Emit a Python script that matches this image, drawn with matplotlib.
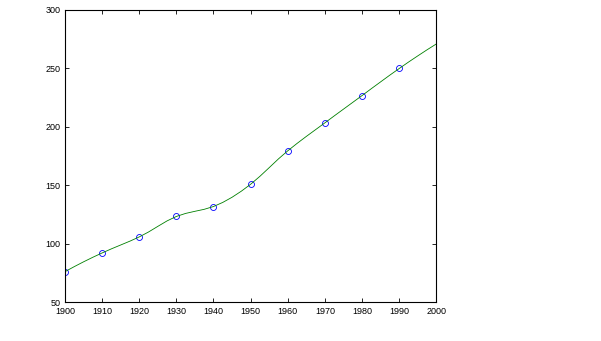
import matplotlib
matplotlib.use("Agg")
import matplotlib.pyplot as plt

# census samples (blue circles)
years = [1900, 1910, 1920, 1930, 1940, 1950, 1960, 1970, 1980, 1990]
pop = [75.995, 91.972, 105.711, 123.203, 131.669, 150.697, 179.323, 203.212, 226.505, 249.633]

# smooth fitted curve, every 2.5 years
fit_years = [1900, 1902.5, 1905, 1907.5, 1910, 1912.5, 1915, 1917.5, 1920,
             1922.5, 1925, 1927.5, 1930, 1932.5, 1935, 1937.5, 1940,
             1942.5, 1945, 1947.5, 1950, 1952.5, 1955, 1957.5, 1960,
             1962.5, 1965, 1967.5, 1970, 1972.5, 1975, 1977.5, 1980,
             1982.5, 1985, 1987.5, 1990, 1992.5, 1995, 1997.5, 2000]
fit_pop = [76.0, 80.3, 84.4, 88.3, 92.0, 95.5, 98.8, 102.1, 105.7,
           109.9, 114.7, 119.4, 123.2, 125.8, 127.6, 129.3, 131.7,
           135.2, 139.6, 144.8, 150.7, 157.5, 164.9, 172.4, 179.3,
           185.6, 191.6, 197.4, 203.2, 209.1, 214.9, 220.7, 226.5,
           232.4, 238.2, 244.0, 249.6, 255.1, 260.4, 265.6, 270.6]

plt.rcParams["font.family"] = ["Liberation Sans", "DejaVu Sans"]

fig = plt.figure(figsize=(6.01, 3.41), dpi=100)
ax = fig.add_axes([0.108, 0.114, 0.618, 0.858])

ax.plot(years, pop, "o", mfc="none", mec="#0000ff", ms=4.3, mew=0.6)
ax.plot(fit_years, fit_pop, color="#008000", lw=0.6)

ax.set_xlim(1900, 2000)
ax.set_ylim(50, 300)
ax.set_xticks(range(1900, 2001, 10))
ax.set_yticks(range(50, 301, 50))
ax.tick_params(direction="in", top=True, right=True, labelsize=6.5,
               length=3, width=0.6)
ax.tick_params(axis="x", pad=3.5)
ax.tick_params(axis="y", pad=3)
for s in ax.spines.values():
    s.set_linewidth(0.8)

fig.savefig("out.png", dpi=100)
